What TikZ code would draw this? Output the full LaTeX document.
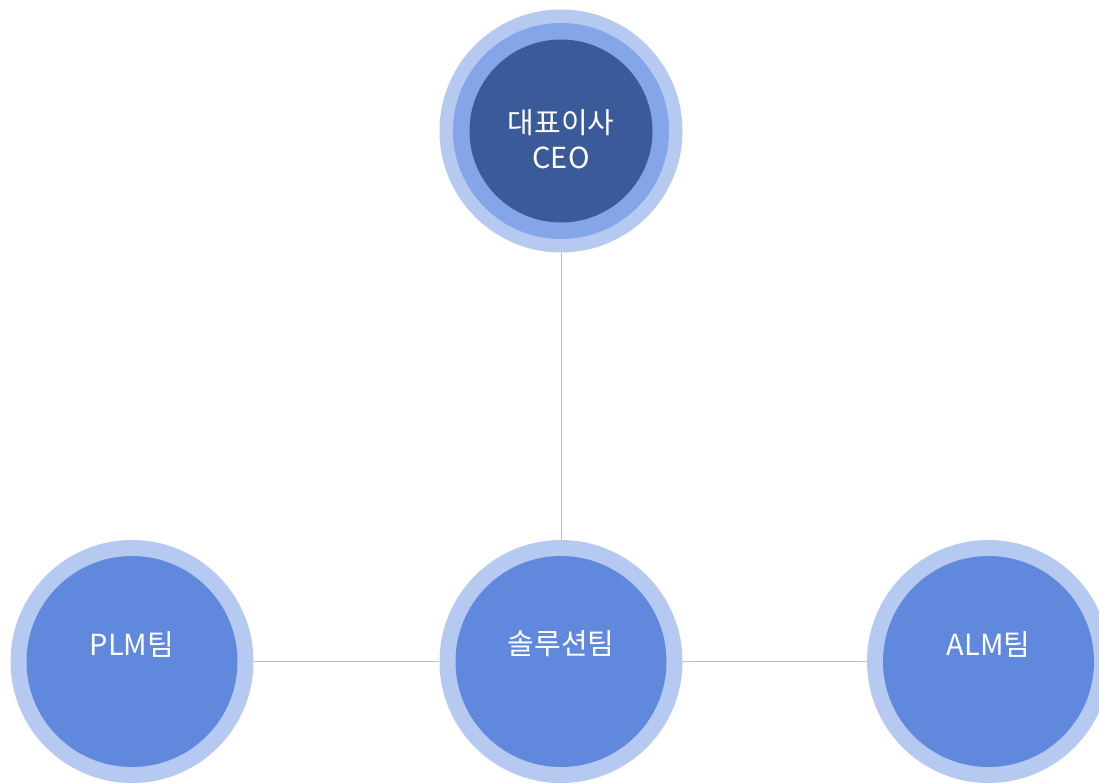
\documentclass[tikz,border=0pt]{standalone}
\usepackage{fontspec}
\setmainfont{Noto Sans CJK KR}
\definecolor{ringlight}{HTML}{B6CAF1}
\definecolor{ringmid}{HTML}{84A5E8}
\definecolor{ceodark}{HTML}{3B5A9A}
\definecolor{teamfill}{HTML}{6089DE}
\definecolor{linegray}{HTML}{BFBFBF}
\tikzset{
  outerring/.style={circle,fill=ringlight,minimum size=243pt,inner sep=0pt},
  midring/.style={circle,fill=ringmid,minimum size=216pt,inner sep=0pt},
  ceocore/.style={circle,fill=ceodark,minimum size=183pt,inner sep=0pt},
  teamcore/.style={circle,fill=teamfill,minimum size=211pt,inner sep=0pt},
  lbl/.style={text=white,font=\fontsize{29}{35}\selectfont,align=center,inner sep=0pt},
  conn/.style={draw=linegray,line width=0.9pt}
}
\begin{document}
\begin{tikzpicture}[x=1pt,y=-1pt]
\useasboundingbox[fill=white] (0,0) rectangle (1099,782);
% CEO
\node[outerring] (ceo) at (561,131) {};
\node[midring] (ceomid) at (561,131) {};
\node[ceocore] (ceoin) at (561,131) {};
\node[lbl] (ceotxt) at (561,139) {대표이사\\CEO};
% Solution team
\node[outerring] (sol) at (561,661.5) {};
\node[teamcore] (solin) at (561,661.5) {};
\node[lbl] (soltxt) at (561,644) {솔루션팀};
% PLM team
\node[outerring] (plm) at (132,661.5) {};
\node[teamcore] (plmin) at (132,661.5) {};
\node[lbl] (plmtxt) at (132,644) {PLM팀};
% ALM team
\node[outerring] (alm) at (988.5,661.5) {};
\node[teamcore] (almin) at (988.5,661.5) {};
\node[lbl] (almtxt) at (988.5,644) {ALM팀};
% connectors
\draw[conn] (ceo) -- (sol);
\draw[conn] (plm) -- (sol);
\draw[conn] (sol) -- (alm);
\end{tikzpicture}
\end{document}
